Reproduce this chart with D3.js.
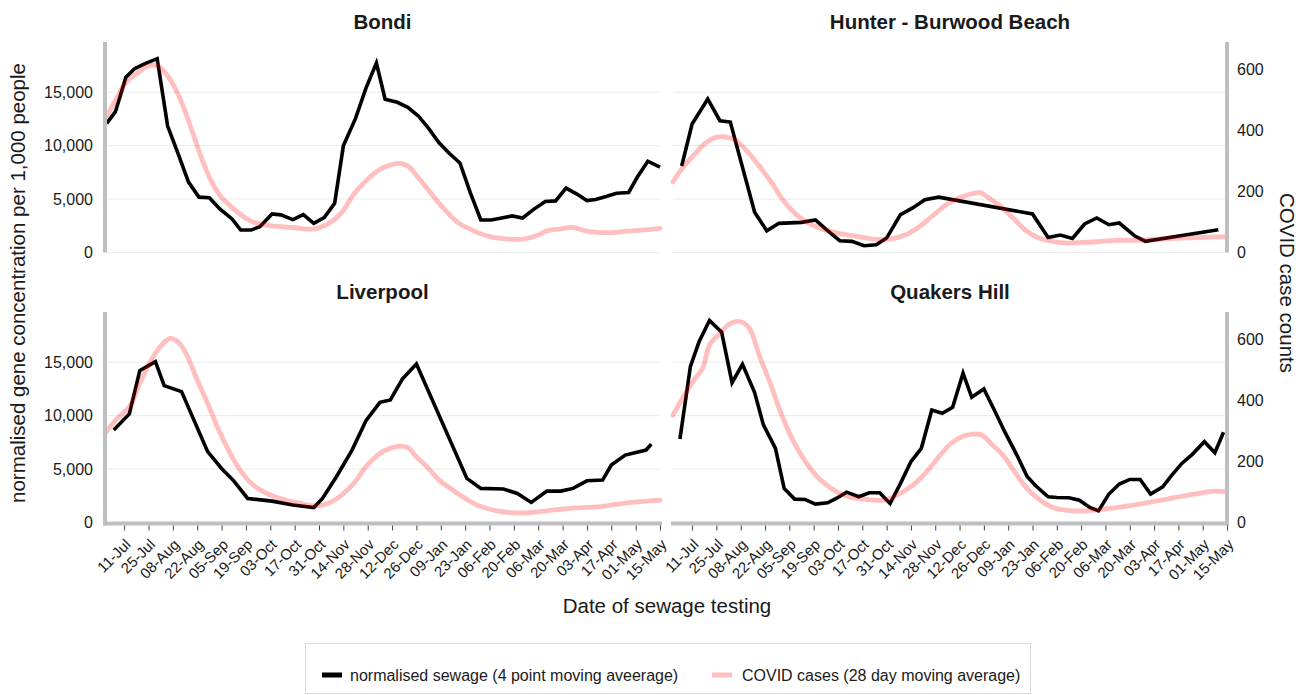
<!DOCTYPE html>
<html><head><meta charset="utf-8">
<script src="https://cdn.jsdelivr.net/npm/d3@7"></script>
<style>
html,body{margin:0;padding:0;background:#fff;}
svg{display:block;font-family:"Liberation Sans",Arial,sans-serif;}
</style></head><body>
<svg id="chart" width="1304" height="695"></svg>
<script>
// ---------- data ----------
const sites = ["Bondi", "Hunter - Burwood Beach", "Liverpool", "Quakers Hill"];
const xTickLabels = ["11-Jul","25-Jul","08-Aug","22-Aug","05-Sep","19-Sep","03-Oct","17-Oct","31-Oct","14-Nov","28-Nov","12-Dec","26-Dec","09-Jan","23-Jan","06-Feb","20-Feb","06-Mar","20-Mar","03-Apr","17-Apr","01-May","15-May"];
const leftTicks = [0, 5000, 10000, 15000];
const rightTicks = [0, 200, 400, 600];
const seriesNames = ["normalised sewage (4 point moving aveerage)", "COVID cases (28 day moving average)"];

const bondiSewageDates = ["2021-07-01","2021-07-06","2021-07-12","2021-07-17","2021-07-23","2021-07-30","2021-08-05","2021-08-11","2021-08-17","2021-08-23","2021-08-29","2021-09-04","2021-09-11","2021-09-16","2021-09-22","2021-09-27","2021-10-04","2021-10-09","2021-10-16","2021-10-22","2021-10-28","2021-11-03","2021-11-09","2021-11-14","2021-11-21","2021-11-27","2021-12-03","2021-12-08","2021-12-15","2021-12-21","2021-12-27","2022-01-02","2022-01-08","2022-01-14","2022-01-20","2022-01-26","2022-02-01","2022-02-07","2022-02-13","2022-02-19","2022-02-25","2022-03-03","2022-03-10","2022-03-16","2022-03-22","2022-03-28","2022-04-03","2022-04-08","2022-04-14","2022-04-20","2022-04-27","2022-05-02","2022-05-08","2022-05-15"];
const bondiSewage = [12080,13180,16410,17200,17670,18140,11830,9260,6590,5180,5120,4080,3140,2100,2100,2420,3610,3520,3080,3550,2730,3260,4610,9980,12550,15380,17730,14340,14060,13590,12800,11610,10260,9260,8380,5590,3040,3040,3230,3420,3230,3990,4770,4830,6030,5490,4860,4960,5240,5550,5620,7060,8540,8000];
const bondiCaseDates = ["2021-07-01","2021-07-07","2021-07-12","2021-07-19","2021-07-25","2021-07-30","2021-08-05","2021-08-11","2021-08-17","2021-08-23","2021-08-29","2021-09-05","2021-09-11","2021-09-17","2021-09-24","2021-10-04","2021-10-16","2021-10-28","2021-11-05","2021-11-13","2021-11-20","2021-11-27","2021-12-05","2021-12-11","2021-12-16","2021-12-21","2021-12-27","2022-01-03","2022-01-11","2022-01-19","2022-01-28","2022-02-07","2022-02-17","2022-02-25","2022-03-05","2022-03-11","2022-03-18","2022-03-26","2022-04-02","2022-04-09","2022-04-19","2022-04-27","2022-05-04","2022-05-15"];
const bondiCases = [448,508,557,590,612,612,579,519,432,333,246,180,148,120,98,87,82,77,93,131,191,235,273,287,292,284,246,197,142,98,71,51,44,44,55,71,77,82,71,66,66,71,73,79];

const hunterSewageDates = ["2021-07-05","2021-07-11","2021-07-20","2021-07-27","2021-08-02","2021-08-16","2021-08-23","2021-08-30","2021-09-12","2021-09-20","2021-09-27","2021-10-04","2021-10-11","2021-10-18","2021-10-25","2021-10-31","2021-11-08","2021-11-15","2021-11-22","2021-11-30","2022-01-23","2022-02-01","2022-02-08","2022-02-15","2022-02-22","2022-03-01","2022-03-08","2022-03-14","2022-03-23","2022-03-29","2022-05-10"];
const hunterSewage = [8100,12020,14370,12330,12210,3770,2040,2730,2820,3040,2040,1100,1040,630,720,1350,3550,4170,4930,5180,3610,1410,1630,1320,2670,3230,2600,2760,1540,1040,2130];
const hunterCaseDates = ["2021-06-30","2021-07-06","2021-07-12","2021-07-18","2021-07-24","2021-07-30","2021-08-05","2021-08-12","2021-08-19","2021-08-26","2021-09-02","2021-09-09","2021-09-16","2021-09-25","2021-10-04","2021-10-14","2021-10-23","2021-11-02","2021-11-11","2021-11-19","2021-11-26","2021-12-05","2021-12-13","2021-12-19","2021-12-24","2021-12-29","2022-01-05","2022-01-12","2022-01-19","2022-01-26","2022-02-02","2022-02-12","2022-02-21","2022-03-03","2022-03-12","2022-03-22","2022-03-31","2022-04-09","2022-04-19","2022-04-28","2022-05-08","2022-05-15"];
const hunterCases = [232,281,319,355,376,379,368,330,281,227,167,124,96,75,62,53,44,44,58,85,118,159,181,192,196,178,150,112,73,49,38,31,33,36,40,40,42,45,47,49,51,52];

const liverpoolSewageDates = ["2021-07-05","2021-07-14","2021-07-20","2021-07-24","2021-07-29","2021-08-03","2021-08-13","2021-08-28","2021-09-05","2021-09-12","2021-09-20","2021-10-04","2021-10-16","2021-10-28","2021-11-02","2021-11-10","2021-11-19","2021-11-27","2021-12-05","2021-12-11","2021-12-18","2021-12-26","2022-01-24","2022-02-01","2022-02-14","2022-02-22","2022-03-02","2022-03-11","2022-03-19","2022-03-26","2022-04-03","2022-04-12","2022-04-17","2022-04-25","2022-05-07","2022-05-10"];
const liverpoolSewage = [8660,10160,14220,14590,15060,12810,12250,6630,5060,3900,2250,2000,1630,1400,2250,4280,6780,9530,11250,11470,13440,14840,4130,3190,3130,2720,1880,2940,2940,3190,3900,3970,5380,6310,6780,7340];
const liverpoolCaseDates = ["2021-06-30","2021-07-07","2021-07-14","2021-07-20","2021-07-26","2021-08-01","2021-08-06","2021-08-11","2021-08-16","2021-08-22","2021-08-28","2021-09-03","2021-09-10","2021-09-17","2021-09-24","2021-10-03","2021-10-12","2021-10-21","2021-10-29","2021-11-05","2021-11-13","2021-11-20","2021-11-27","2021-12-05","2021-12-11","2021-12-16","2021-12-21","2021-12-26","2022-01-01","2022-01-08","2022-01-16","2022-01-23","2022-01-30","2022-02-09","2022-02-19","2022-03-01","2022-03-11","2022-03-21","2022-03-31","2022-04-09","2022-04-19","2022-04-29","2022-05-09","2022-05-15"];
const liverpoolCases = [292,341,379,456,527,578,603,592,549,467,390,308,226,161,119,90,73,62,54,62,90,128,183,226,243,250,246,215,183,139,106,79,57,40,32,32,38,45,49,51,59,66,71,73];

const quakersSewageDates = ["2021-07-04","2021-07-10","2021-07-15","2021-07-21","2021-07-28","2021-08-03","2021-08-09","2021-08-16","2021-08-21","2021-08-28","2021-09-02","2021-09-08","2021-09-14","2021-09-20","2021-09-27","2021-10-02","2021-10-08","2021-10-15","2021-10-21","2021-10-27","2021-11-02","2021-11-08","2021-11-14","2021-11-20","2021-11-26","2021-12-02","2021-12-08","2021-12-14","2021-12-19","2021-12-26","2022-01-01","2022-01-07","2022-01-14","2022-01-20","2022-01-25","2022-02-01","2022-02-06","2022-02-13","2022-02-19","2022-02-25","2022-03-02","2022-03-08","2022-03-14","2022-03-20","2022-03-26","2022-04-01","2022-04-08","2022-04-13","2022-04-19","2022-04-25","2022-05-02","2022-05-08","2022-05-13"];
const quakersSewage = [7810,14590,16910,18910,17810,13090,14810,12160,9160,6940,3190,2190,2160,1720,1840,2250,2840,2410,2780,2780,1780,3660,5690,6940,10530,10220,10780,13970,11720,12500,10530,8500,6310,4280,3410,2410,2340,2310,2090,1410,1090,2660,3600,4030,4030,2660,3340,4380,5530,6380,7560,6530,8440];
const quakersCaseDates = ["2021-06-30","2021-07-06","2021-07-12","2021-07-17","2021-07-21","2021-07-27","2021-08-02","2021-08-08","2021-08-13","2021-08-19","2021-08-25","2021-09-01","2021-09-08","2021-09-15","2021-09-23","2021-10-02","2021-10-11","2021-10-21","2021-10-29","2021-11-06","2021-11-15","2021-11-23","2021-11-30","2021-12-07","2021-12-14","2021-12-20","2021-12-25","2021-12-31","2022-01-06","2022-01-12","2022-01-19","2022-01-26","2022-02-03","2022-02-12","2022-02-21","2022-03-03","2022-03-12","2022-03-22","2022-03-31","2022-04-09","2022-04-19","2022-04-28","2022-05-08","2022-05-14"];
const quakersCases = [352,412,467,505,581,620,652,658,636,543,456,346,259,193,139,101,81,75,73,90,122,166,215,259,283,290,286,254,221,172,117,79,51,40,38,43,49,57,66,75,86,95,103,101];

// ---------- chart ----------
const parse = d3.utcParse("%Y-%m-%d");
const zip = (ds, vs) => ds.map((d, i) => ({date: parse(d), value: vs[i]})).filter(p => p.value != null);
const xDomain = [parse("2021-06-30"), parse("2022-05-15")];
const tickDates = xTickLabels.map((_, i) => d3.utcDay.offset(parse("2021-07-11"), 14 * i));

const panels = [
  {name: sites[0], sew: zip(bondiSewageDates, bondiSewage), cas: zip(bondiCaseDates, bondiCases), col: 0, row: 0},
  {name: sites[1], sew: zip(hunterSewageDates, hunterSewage), cas: zip(hunterCaseDates, hunterCases), col: 1, row: 0},
  {name: sites[2], sew: zip(liverpoolSewageDates, liverpoolSewage), cas: zip(liverpoolCaseDates, liverpoolCases), col: 0, row: 1},
  {name: sites[3], sew: zip(quakersSewageDates, quakersSewage), cas: zip(quakersCaseDates, quakersCases), col: 1, row: 1}
];

const cols = [[105, 660], [673, 1227]];
const rows = [[42, 252.5], [312, 522.5]];
const axisGray = "#bfbfbf";
const gridColor = "#ebebeb";
const textColor = "#1a1a1a";
const pinkStroke = "rgba(255,0,0,0.25)";
const FONT = "Liberation Sans, Arial, sans-serif";

const svg = d3.select("#chart");

panels.forEach(p => {
  const [x0, x1] = cols[p.col];
  const [yTop, yBot] = rows[p.row];
  const x = d3.scaleUtc().domain(xDomain).range([x0, x1]);
  const yL = d3.scaleLinear().domain([0, 19700]).range([yBot, yTop]);
  const yR = d3.scaleLinear().domain([0, 690]).range([yBot, yTop]);
  const g = svg.append("g");

  // gridlines
  g.selectAll("line.grid").data(leftTicks).join("line")
    .attr("x1", x0).attr("x2", x1)
    .attr("y1", d => yL(d)).attr("y2", d => yL(d))
    .attr("stroke", gridColor).attr("stroke-width", 1);

  // title
  g.append("text").attr("x", (x0 + x1) / 2).attr("y", yTop - 13)
    .attr("text-anchor", "middle").attr("font-weight", "bold")
    .attr("font-size", "20.5px").attr("fill", textColor).text(p.name);

  // lines
  const sewLine = d3.line().x(d => x(d.date)).y(d => yL(d.value));
  const casLine = d3.line().x(d => x(d.date)).y(d => yR(d.value)).curve(d3.curveCatmullRom.alpha(0.5));

  g.append("path").datum(p.sew).attr("d", sewLine)
    .attr("fill", "none").attr("stroke", "#000").attr("stroke-width", 3.6);
  g.append("path").datum(p.cas).attr("d", casLine)
    .attr("fill", "none").attr("stroke", pinkStroke).attr("stroke-width", 4.8)
    .attr("stroke-linejoin", "round").attr("stroke-linecap", "round");

  // vertical axes
  if (p.col === 0) {
    const ax = g.append("g").attr("transform", `translate(${x0},0)`)
      .call(d3.axisLeft(yL).tickValues(leftTicks).tickFormat(d3.format(",")).tickSize(0).tickPadding(12));
    ax.select(".domain").remove();
    ax.selectAll("text").attr("font-size", "16px").attr("fill", textColor).attr("font-family", FONT);
    g.append("line").attr("x1", x0).attr("x2", x0).attr("y1", yTop).attr("y2", yBot + (p.row === 1 ? 3 : 0))
      .attr("stroke", axisGray).attr("stroke-width", 4);
  } else {
    const ax = g.append("g").attr("transform", `translate(${x1},0)`)
      .call(d3.axisRight(yR).tickValues(rightTicks).tickSize(0).tickPadding(10));
    ax.select(".domain").remove();
    ax.selectAll("text").attr("font-size", "16px").attr("fill", textColor).attr("font-family", FONT);
    g.append("line").attr("x1", x1).attr("x2", x1).attr("y1", yTop).attr("y2", yBot + (p.row === 1 ? 3 : 0))
      .attr("stroke", axisGray).attr("stroke-width", 4);
  }

  // bottom axis
  if (p.row === 1) {
    g.append("line").attr("x1", x0 - 2).attr("x2", x1 + 2).attr("y1", yBot + 1).attr("y2", yBot + 1)
      .attr("stroke", axisGray).attr("stroke-width", 4);
    const bx = g.append("g").attr("transform", `translate(0,${yBot + 3})`)
      .call(d3.axisBottom(x).tickValues(tickDates).tickFormat((d, i) => xTickLabels[i]).tickSize(5).tickSizeOuter(0));
    bx.select(".domain").remove();
    bx.selectAll(".tick line").attr("stroke", "#444");
    bx.selectAll("text")
      .attr("x", null).attr("y", null).attr("dy", null)
      .attr("transform", "translate(7,20) rotate(-45)")
      .attr("text-anchor", "end")
      .attr("font-size", "15px").attr("fill", textColor)
      .attr("font-family", FONT);
  }
});

// axis titles
svg.append("text").attr("transform", "translate(25,283) rotate(-90)")
  .attr("text-anchor", "middle").attr("font-size", "20.5px").attr("fill", textColor)
  .text("normalised gene concentration per 1,000 people");
svg.append("text").attr("transform", "translate(1280,283) rotate(90)")
  .attr("text-anchor", "middle").attr("font-size", "20.5px").attr("fill", textColor)
  .text("COVID case counts");
svg.append("text").attr("x", 667).attr("y", 613)
  .attr("text-anchor", "middle").attr("font-size", "20.5px").attr("fill", textColor)
  .text("Date of sewage testing");

// legend
const lg = svg.append("g");
lg.append("rect").attr("x", 305.5).attr("y", 643.5).attr("width", 725).attr("height", 50)
  .attr("fill", "#fff").attr("stroke", "#dadada").attr("stroke-width", 1);
const legendItems = [
  {label: seriesNames[0], color: "#000", sx: 322, tx: 350},
  {label: seriesNames[1], color: pinkStroke, sx: 712, tx: 742}
];
legendItems.forEach(it => {
  lg.append("line").attr("x1", it.sx).attr("x2", it.sx + 20).attr("y1", 675).attr("y2", 675)
    .attr("stroke", it.color).attr("stroke-width", 5);
  lg.append("text").attr("x", it.tx).attr("y", 681).attr("font-size", "16px").attr("fill", textColor).text(it.label);
});
</script>
</body></html>
